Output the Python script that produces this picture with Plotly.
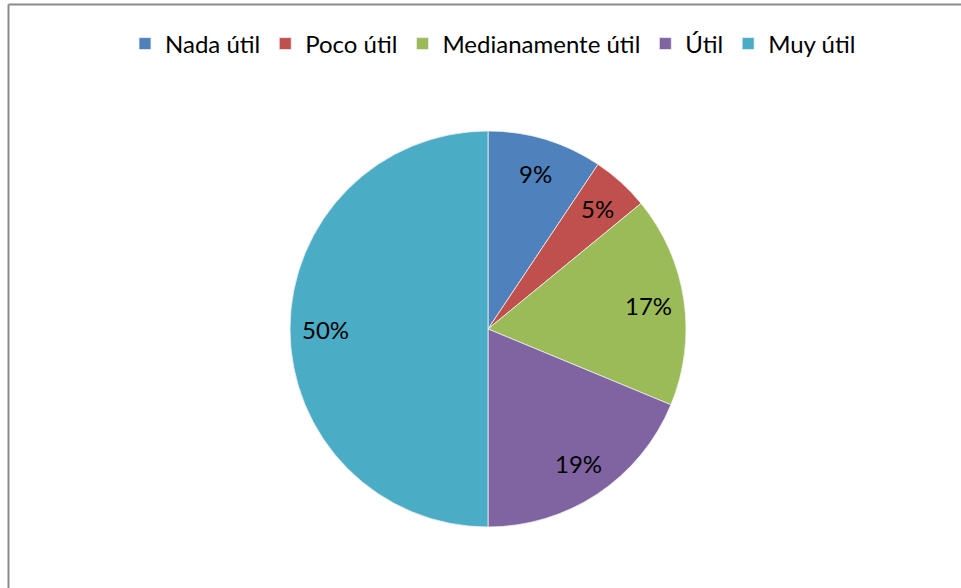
import math
import plotly.graph_objects as go

# respuestas por categoria (conteos)
categorias = ["Nada útil", "Poco útil", "Medianamente útil", "Útil", "Muy útil"]
respuestas = [6, 3, 11, 12, 32]
colores = ["#4F81BD", "#C0504D", "#9BBB59", "#8064A2", "#4BACC6"]

W, H = 961, 588
top, bottom = 131, 61
plot_h = H - top - bottom
cx = 488 / W  # centro del pastel (fraccion del papel)
dom_w = 0.43

fig = go.Figure()

fig.add_trace(
    go.Pie(
        labels=categorias,
        values=respuestas,
        sort=False,
        direction="clockwise",
        rotation=0,
        marker=dict(colors=colores, line=dict(color="#f0f0f0", width=0.8)),
        textposition="none",
        hoverinfo="label+value+percent",
        domain=dict(x=[cx - dom_w / 2, cx + dom_w / 2], y=[0, 1]),
    )
)

# etiquetas de porcentaje a ~82% del radio, en el angulo medio de cada sector
total = sum(respuestas)
R = plot_h / 2
annotations = []
acum = 0
for v in respuestas:
    ang = 2 * math.pi * (acum + v / 2) / total
    acum += v
    r = 0.82 * R
    annotations.append(
        dict(
            x=cx + r * math.sin(ang) / W,
            y=0.5 + r * math.cos(ang) / plot_h,
            xref="paper",
            yref="paper",
            xanchor="center",
            yanchor="middle",
            text=f"{round(100 * v / total)}%",
            showarrow=False,
            font=dict(family="Lato", size=24, color="#000000"),
        )
    )

fig.update_layout(
    width=W,
    height=H,
    paper_bgcolor="white",
    plot_bgcolor="white",
    margin=dict(l=0, r=0, t=top, b=bottom),
    font=dict(family="Lato", color="#000000"),
    annotations=annotations,
    legend=dict(
        orientation="h",
        x=493 / W,
        xanchor="center",
        y=1 + (top - 44) / plot_h,
        yanchor="middle",
        font=dict(family="Lato", size=24, color="#000000"),
        traceorder="normal",
    ),
    shapes=[
        # borde del grafico (solo visible a la izquierda y arriba)
        dict(type="line", xref="paper", yref="paper",
             x0=8.5 / W, x1=1.02, y0=1 + (top - 4.5) / plot_h,
             y1=1 + (top - 4.5) / plot_h,
             line=dict(color="#8c8c8c", width=2)),
        dict(type="line", xref="paper", yref="paper",
             x0=8.5 / W, x1=8.5 / W, y0=-0.2,
             y1=1 + (top - 4.5) / plot_h,
             line=dict(color="#8c8c8c", width=2)),
    ],
)

fig.write_html(
    "out.html",
    config={"displayModeBar": False},
    post_script="document.body.style.margin='0';",
)
